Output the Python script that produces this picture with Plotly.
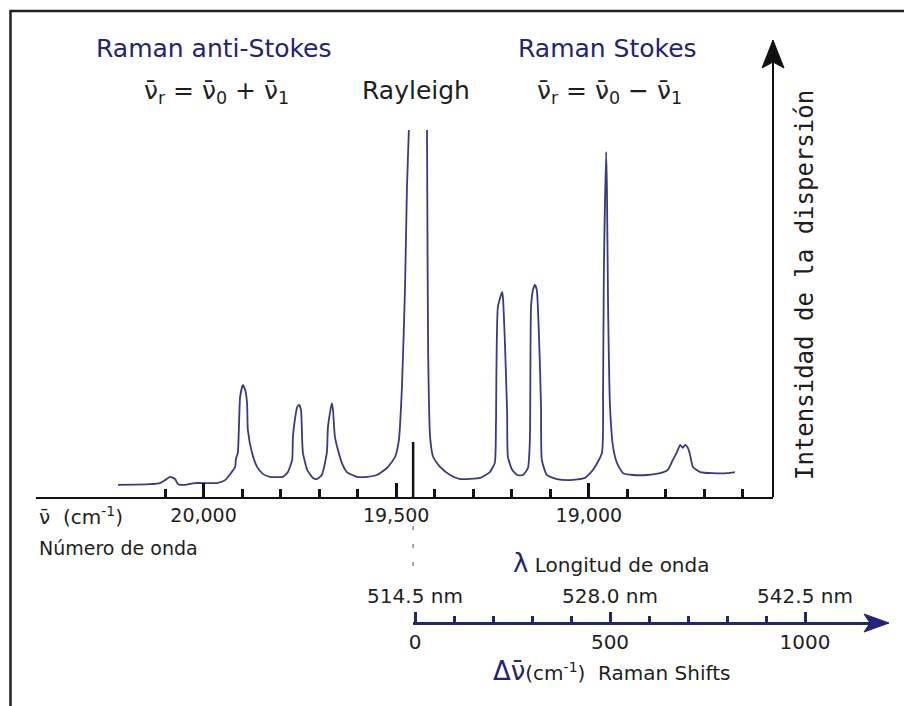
import plotly.graph_objects as go

# ---------------- data ----------------
wavenumber = [20222, 20139, 20113, 20100, 20087, 20074, 20066, 20048, 20022, 19965,
              19944, 19918, 19916, 19911, 19905, 19898, 19892, 19887, 19885, 19874,
              19861, 19846, 19828, 19794, 19781, 19770, 19768, 19763, 19757, 19752,
              19747, 19744, 19742, 19731, 19716, 19706, 19693, 19680, 19677, 19667,
              19664, 19659, 19651, 19641, 19628, 19602, 19576, 19550, 19524, 19503,
              19493, 19485, 19477, 19472, 19467, 19463, 19443, 19421, 19420, 19419,
              19417, 19412, 19404, 19386, 19360, 19334, 19282, 19257, 19244, 19241,
              19236, 19225, 19223, 19218, 19212, 19210, 19199, 19186, 19171, 19158,
              19153, 19150, 19145, 19140, 19135, 19129, 19124, 19122, 19109, 19083,
              19049, 19010, 18989, 18966, 18963, 18961, 18955, 18953, 18950, 18945,
              18937, 18927, 18911, 18885, 18849, 18815, 18795, 18782, 18771, 18763,
              18756, 18750, 18743, 18737, 18730, 18711, 18678, 18641, 18621]
intensity = [3.3, 3.5, 3.8, 4.6, 5.5, 4.9, 3.5, 3.3, 3.8, 3.8,
             4.6, 8.2, 10.4, 12.0, 27.3, 30.5, 29.2, 25.6, 18.3, 12.0,
             8.2, 6.3, 5.5, 5.5, 6.8, 10.1, 16.4, 21.0, 24.5, 25.1,
             23.7, 15.5, 12.0, 7.4, 5.2, 4.9, 6.0, 12.0, 19.1, 25.6,
             23.7, 16.4, 12.8, 9.3, 6.8, 5.5, 5.5, 6.0, 7.9, 10.9,
             15.5, 30.0, 57.2, 84.5, 100, 113.6, 200, 113.6, 100, 75.5,
             39.2, 16.4, 10.9, 8.2, 6.0, 4.9, 5.2, 6.8, 9.3, 20.2,
             51.8, 55.9, 54.5, 42.8, 22.9, 10.9, 7.4, 6.0, 6.0, 7.9,
             15.5, 51.8, 56.4, 57.8, 56.4, 42.8, 24.5, 10.1, 6.0, 4.9,
             4.6, 5.2, 7.4, 12.0, 29.2, 61.0, 94.0, 83.7, 51.8, 24.5,
             13.6, 9.3, 6.5, 6.0, 6.0, 6.5, 7.4, 10.1, 12.3, 14.2,
             13.4, 14.2, 13.4, 11.4, 8.2, 6.8, 6.5, 6.5, 6.8]

rayleigh_wavenumber = 19456
rayleigh_marker = [0, 15]

wn_major_ticks = [20000, 19500, 19000]
wn_major_labels = ["20,000", "19,500", "19,000"]
wn_minor_ticks = [20100, 19900, 19800, 19700, 19600, 19400, 19300, 19200, 19100,
                  18900, 18800, 18700, 18600]

shift_major_ticks = [0, 500, 1000]
shift_major_labels = ["0", "500", "1000"]
shift_minor_ticks = [100, 200, 300, 400, 600, 700, 800, 900]
wavelength_labels = ["514.5 nm", "528.0 nm", "542.5 nm"]

# ---------------- layout helpers (pixel -> paper) ----------------
L, R, T, B = 36, 888, 130, 623
W, H = R - L, B - T


def px(x):
    return (x - L) / W


def py(y):
    return (B - y) / H


NAVY = "#23237a"
LINE = "#3a3a86"
DARK = "#1e1e1e"
FONT = "DejaVu Sans"

fig = go.Figure()

fig.add_trace(go.Scatter(x=wavenumber, y=intensity, mode="lines",
                         line=dict(color=LINE, width=1.8, shape="spline", smoothing=0.5),
                         hoverinfo="skip", showlegend=False))
fig.add_trace(go.Scatter(x=[rayleigh_wavenumber, rayleigh_wavenumber], y=rayleigh_marker,
                         mode="lines", line=dict(color="#111", width=2.5),
                         hoverinfo="skip", showlegend=False))
# anchor traces for the Raman-shift axes
fig.add_trace(go.Scatter(x=[0], y=[-50], xaxis="x2", yaxis="y", mode="markers",
                         marker=dict(opacity=0), hoverinfo="skip", showlegend=False))
fig.add_trace(go.Scatter(x=[0], y=[-50], xaxis="x3", yaxis="y", mode="markers",
                         marker=dict(opacity=0), hoverinfo="skip", showlegend=False))

wn_left = 20434.8
wn_right = 18522.0
shift_left = -5.13
shift_right = 1171.8

fig.update_layout(
    width=904, height=706, autosize=False,
    margin=dict(l=L, r=904 - R, t=T, b=706 - B, pad=0, autoexpand=False),
    paper_bgcolor="white", plot_bgcolor="rgba(0,0,0,0)",
    font=dict(family=FONT, color=DARK),
    showlegend=False,
    xaxis=dict(domain=[0, px(773)], range=[wn_left, wn_right], anchor="y",
               automargin=False,
               showline=True, linecolor="#111", linewidth=2,
               ticks="inside", tickvals=wn_major_ticks, ticktext=wn_major_labels,
               ticklen=14, tickwidth=3, tickcolor="#111",
               minor=dict(tickvals=wn_minor_ticks, ticks="inside", ticklen=8,
                          tickwidth=3, tickcolor="#111", showgrid=False),
               tickfont=dict(size=19, color=DARK, family=FONT),
               showgrid=False, zeroline=False, fixedrange=True),
    yaxis=dict(domain=[py(497), 1], range=[0, 100], visible=False, fixedrange=True,
               automargin=False),
    xaxis2=dict(domain=[px(413), px(872)], range=[shift_left, shift_right],
                anchor="free", position=0, side="bottom", automargin=False,
                showline=True, linecolor=NAVY, linewidth=3,
                ticks="inside", tickvals=shift_major_ticks, ticktext=shift_major_labels,
                ticklen=10, tickwidth=3, tickcolor=NAVY,
                minor=dict(tickvals=shift_minor_ticks, ticks="inside", ticklen=6,
                           tickwidth=3, tickcolor=NAVY, showgrid=False),
                tickfont=dict(size=20, color=DARK, family=FONT),
                showgrid=False, zeroline=False, fixedrange=True),
    xaxis3=dict(overlaying="x2", range=[shift_left, shift_right],
                anchor="free", position=0, side="top", automargin=False,
                showline=False, ticks="outside", ticklen=12, tickcolor="rgba(0,0,0,0)",
                tickvals=shift_major_ticks, ticktext=wavelength_labels,
                tickfont=dict(size=20, color=DARK, family=FONT),
                showgrid=False, zeroline=False, fixedrange=True),
)

shapes = []
# outer frame (only left and top edges fall inside the picture)
shapes.append(dict(type="rect", xref="paper", yref="paper",
                   x0=px(10.5), y0=py(760), x1=px(960), y1=py(11),
                   line=dict(color="#222", width=2.5), fillcolor="rgba(0,0,0,0)", layer="below"))
# intensity axis with arrow
shapes.append(dict(type="line", xref="paper", yref="paper",
                   x0=px(773), y0=py(497), x1=px(773), y1=py(60),
                   line=dict(color="#111", width=2)))
shapes.append(dict(type="path", xref="paper", yref="paper",
                   path=f"M {px(773)} {py(40)} L {px(762)} {py(68)} L {px(773)} {py(62)} "
                        f"L {px(784)} {py(68)} Z",
                   line=dict(color="#111", width=1), fillcolor="#111"))
# raman shift axis arrow head
shapes.append(dict(type="path", xref="paper", yref="paper",
                   path=f"M {px(889)} {py(623)} L {px(864)} {py(614)} L {px(870)} {py(623)} "
                        f"L {px(864)} {py(632)} Z",
                   line=dict(color=NAVY, width=1), fillcolor=NAVY))
# dashed link from Rayleigh line down to zero shift
shapes.append(dict(type="line", xref="x", yref="paper",
                   x0=rayleigh_wavenumber, y0=py(508), x1=rayleigh_wavenumber, y1=py(580),
                   line=dict(color="#888", width=1.5, dash="4px,14px")))
fig.update_layout(shapes=shapes)

ann = []


def add(text, x, y, size, color=DARK, xanchor="center", family=FONT, angle=0):
    ann.append(dict(text=text, x=px(x), y=py(y), xref="paper", yref="paper",
                    showarrow=False, xanchor=xanchor, yanchor="middle",
                    textangle=angle, font=dict(size=size, color=color, family=family)))


add("Raman anti-Stokes", 214, 49, 25, color=NAVY)
add("ν̄<sub>r</sub> = ν̄<sub>0</sub> + ν̄<sub>1</sub>", 216, 92, 25)
add("Rayleigh", 416, 91, 25)
add("Raman Stokes", 607, 48, 25, color=NAVY)
add("ν̄<sub>r</sub> = ν̄<sub>0</sub> − ν̄<sub>1</sub>", 609, 92, 25)
add("Intensidad de la dispersión", 805, 285, 24, family="DejaVu Sans Mono", angle=-90)
add("ν̄  (cm<sup>-1</sup>)", 37, 516, 20, xanchor="left")
add("Número de onda", 37, 548, 19, xanchor="left")
add(f"<span style='color:{NAVY};font-size:26px'>λ</span> Longitud de onda", 611, 563, 20)
add(f"<span style='color:{NAVY};font-size:26px'>Δν̄</span>(cm<sup>-1</sup>)  Raman Shifts",
    611, 671, 20)
fig.update_layout(annotations=ann)

fig.write_html("out.html")
